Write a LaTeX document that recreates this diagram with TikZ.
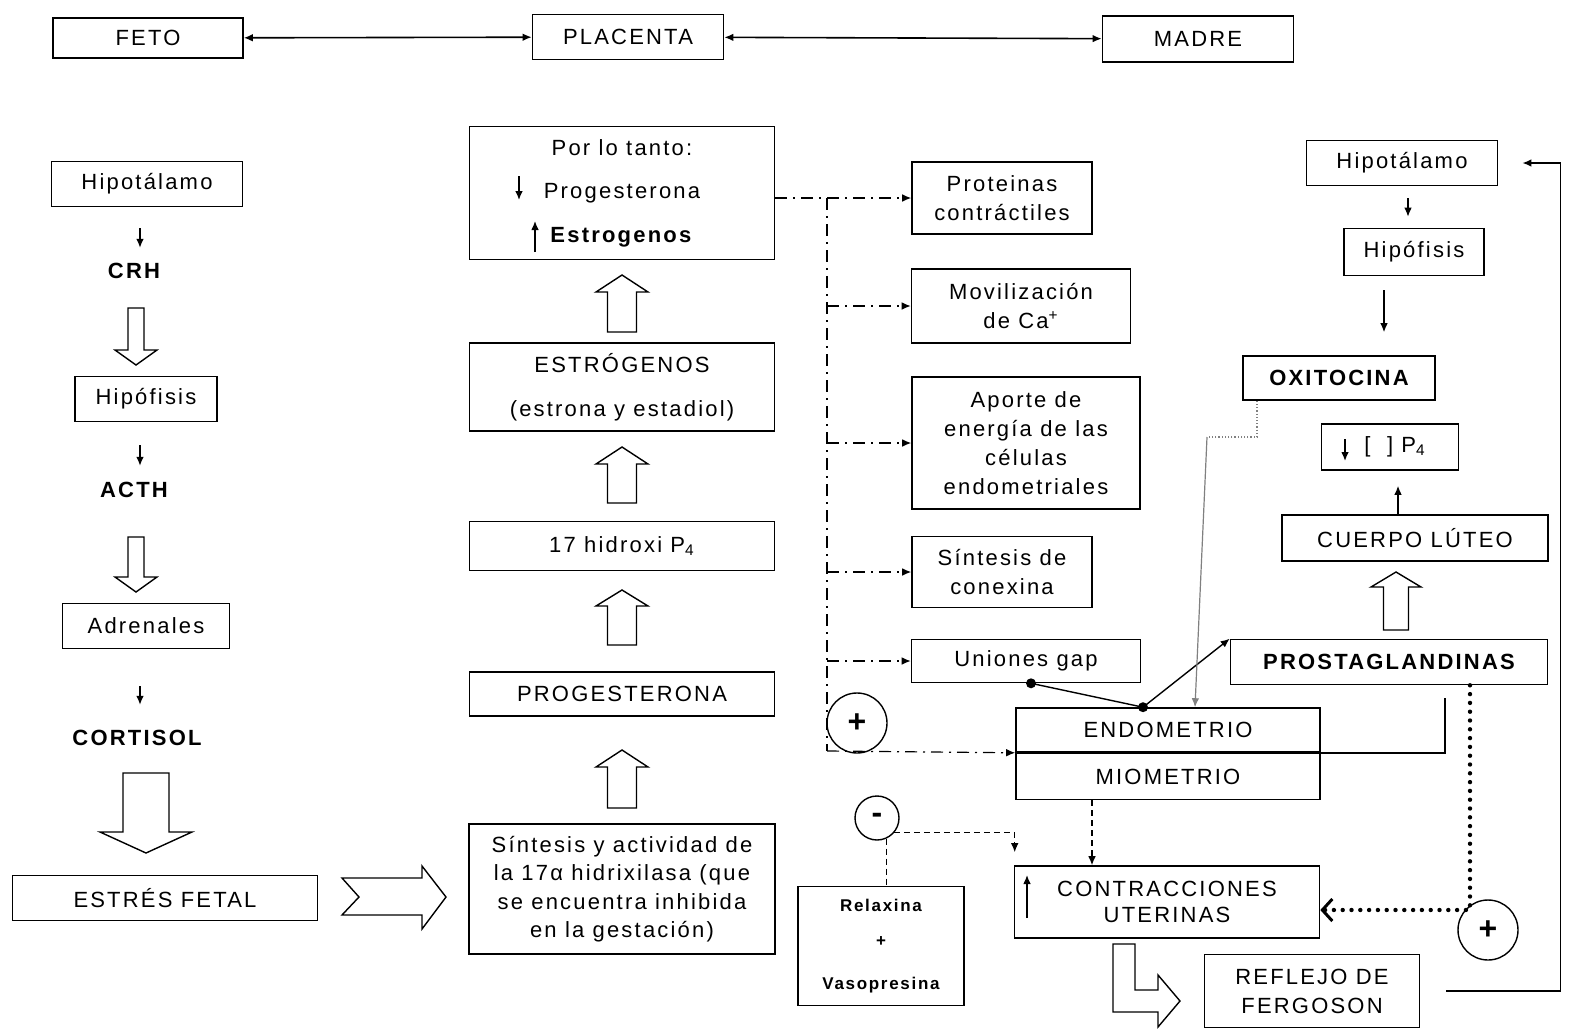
\documentclass[tikz,border=0pt]{standalone}
\usepackage{fontspec}
\setmainfont{Liberation Sans}[LetterSpace=10]
\usetikzlibrary{positioning,calc,arrows.meta}

% hollow block arrow: x, tail y, head base y, tip y, shaft half width, head half width
\newcommand{\fatarrow}[6]{%
  \draw[fat] (#1-#5,#2) -- (#1-#5,#3) -- (#1-#6,#3) -- (#1,#4)
    -- (#1+#6,#3) -- (#1+#5,#3) -- (#1+#5,#2) -- cycle;}

\begin{document}
\begin{tikzpicture}[x=0.5pt,y=-0.5pt,
    font=\fontsize{11}{14.5}\selectfont,
    box/.style={draw,line width=0.8pt,inner sep=0pt,align=center},
    hl/.style={inner sep=1pt,font=\fontsize{11}{14.5}\bfseries\selectfont},
    arr/.style={line width=0.7pt,-{Latex[length=4.5pt,width=3.8pt]}},
    dbl/.style={line width=0.8pt,{Latex[length=4.5pt,width=3.8pt]}-{Latex[length=4.5pt,width=3.8pt]}},
    fat/.style={draw,line width=0.7pt,fill=white},
    dd/.style={line width=0.6pt,dash pattern=on 6pt off 3pt on 1pt off 3pt},
    dsh/.style={line width=0.6pt,dash pattern=on 3pt off 2pt},
    dots/.style={line width=2.2pt,dash pattern=on 0pt off 4.4pt,line cap=round},
    sign/.style={draw,circle,line width=0.7pt,inner sep=0pt,font=\fontsize{16}{16}\bfseries\selectfont}]
\useasboundingbox (0,0) rectangle (1570,1034);

% fila superior
\node[box,minimum width=95pt,minimum height=20pt] (feto) at (148,38) {FETO};
\node[box,minimum width=95.5pt,minimum height=22.5pt] (placenta) at (628,37) {PLACENTA};
\node[box,minimum width=95.5pt,minimum height=23pt] (madre) at (1198,39) {MADRE};
\draw[dbl] (feto) -- (placenta);
\draw[dbl] (placenta) -- (madre);

% feto
\node[box,minimum width=95.5pt,minimum height=22.5pt] (hipo1) at (147,184) {Hipotálamo};
\node[hl] (crh) at (134,271) {CRH};
\node[box,minimum width=71pt,minimum height=22.5pt] (hipof1) at (146,399) {Hipófisis};
\node[hl] (acth) at (134,490) {ACTH};
\node[box,minimum width=83.5pt,minimum height=22.5pt] (adren) at (146,626) {Adrenales};
\node[hl] (cortisol) at (137,738) {CORTISOL};
\node[box,minimum width=152.5pt,minimum height=22.5pt] (estres) at (165,898) {ESTRÉS FETAL};
\draw[arr,shorten <=10.5pt,shorten >=6.5pt] ($(hipo1.south)+(-7,0)$) -- ($(crh.north)+(6,0)$);
\draw[arr,shorten <=11.5pt,shorten >=7pt] ($(hipof1.south)+(-6,0)$) -- ($(acth.north)+(6,0)$);
\draw[arr,shorten <=18.5pt,shorten >=11.5pt] ($(adren.south)+(-6,0)$) -- ($(cortisol.north)+(3,0)$);
\fatarrow{136}{308}{350}{365}{8}{21}
\fatarrow{136}{537}{577}{592}{8}{21}
\fatarrow{146}{773}{832}{853}{23}{46}
\draw[fat] (342,878) -- (422,878) -- (422,866) -- (446,897) -- (422,929)
  -- (422,915) -- (342,915) -- (359,897) -- cycle;

% placenta
\node[box,minimum width=152.5pt,minimum height=66.5pt] (portanto) at (622,193)
  {Por lo tanto:\\[7.25pt]Progesterona\\[7.25pt]\textbf{Estrogenos}};
\draw[arr] (519,176) -- (519,200);
\draw[arr] (535,252) -- (535,221);
\node[box,minimum width=152.5pt,minimum height=44pt] (estrog) at (622,387)
  {ESTRÓGENOS\\[7.5pt](estrona y estadiol)};
\node[box,minimum width=152.5pt,minimum height=24.5pt] (hidroxi) at (622,546) {17 hidroxi P\textsubscript{4}};
\node[box,minimum width=152.5pt,minimum height=22pt] (progest) at (622,694) {PROGESTERONA};
\node[box,minimum width=153pt,minimum height=65pt,font=\fontsize{11}{14.25}\selectfont] (sintesis) at (622,889)
  {Síntesis y actividad de\\la 17α hidrixilasa (que\\se encuentra inhibida\\en la gestación)};
\fatarrow{622}{332}{292}{275}{14.5}{26}
\fatarrow{622}{503}{464}{447}{14.5}{26}
\fatarrow{622}{645}{606}{590}{14.5}{26}
\fatarrow{622}{808}{767}{750}{14.5}{26}

% efectos
\node[box,minimum width=90pt,minimum height=36pt] (proteinas) at (1002,198) {Proteinas\\contráctiles};
\node[box,minimum width=109.5pt,minimum height=37pt] (movil) at (1021,306) {Movilización\\de Ca\textsuperscript{+}};
\node[box,minimum width=114pt,minimum height=66pt] (aporte) at (1026,443) {Aporte de\\energía de las\\células\\endometriales};
\node[box,minimum width=90pt,minimum height=35.5pt] (conexina) at (1002,572) {Síntesis de\\conexina};
\node[box,minimum width=114.5pt,minimum height=21.5pt] (uniones) at (1026,661) {Uniones gap};
\node[sign,minimum size=30pt] (plusA) at (857,723) {+};

% utero
\node[box,minimum width=152pt,minimum height=22pt] (endo) at (1168,730) {ENDOMETRIO};
\node[box,minimum width=152pt,minimum height=23pt,anchor=north] (mio) at (endo.south) {MIOMETRIO};
\node[box,minimum width=152.5pt,minimum height=36pt,font=\fontsize{11}{13}\selectfont] (contr) at (1167,902)
  {CONTRACCIONES\\UTERINAS};
\draw[arr] (1027,918) -- (1027,875);
\node[sign,minimum size=22pt] (minus) at (877,818) {-};
\node[box,minimum width=83pt,minimum height=59.5pt,font=\fontsize{8.5}{10.5}\bfseries\selectfont] (relax) at (881,946)
  {Relaxina\\[7pt]+\\[11pt]Vasopresina};

\coordinate (vtop) at (827,198);
\coordinate (vbot) at (827,751);
\draw[dd,-{Latex[length=4.5pt,width=3.8pt]}] (portanto.east |- proteinas.west) -- (proteinas.west);
\draw[dd] (vtop) -- (vbot);
\foreach \n in {movil,aporte,conexina,uniones}
  \draw[dd,-{Latex[length=4.5pt,width=3.8pt]}] (vtop |- \n.west) -- (\n.west);
\draw[dd,-{Latex[length=4.5pt,width=3.8pt]}] (vbot) -- (endo.south west);
\draw[dsh] (minus.-65) -- (minus.-65 |- relax.north);
\draw[dsh,-{Latex[length=4.5pt,width=3.8pt]}] (minus.-40) -| ($(contr.north west)+(1,-13)$);
\draw[dsh,-{Latex[length=4.5pt,width=3.8pt]}] ($(mio.south)+(-76,0)$) -- ($(contr.north)+(-75,0)$);

% madre
\node[box,minimum width=95.5pt,minimum height=22.5pt] (hipo2) at (1402,163) {Hipotálamo};
\node[box,minimum width=70pt,minimum height=23.5pt] (hipof2) at (1414,252) {Hipófisis};
\node[box,minimum width=96pt,minimum height=22pt,font=\fontsize{11}{14.5}\bfseries\selectfont] (oxi) at (1339,378) {OXITOCINA};
\node[box,minimum width=68.5pt,minimum height=23pt] (pfour) at (1390,447) {\hspace*{5pt}[\ \ ]\ P\textsubscript{4}};
\node[box,minimum width=133pt,minimum height=23pt] (cuerpo) at (1415,538) {CUERPO LÚTEO};
\node[box,minimum width=158.5pt,minimum height=22.5pt,font=\fontsize{11}{14.5}\bfseries\selectfont] (prosta) at (1389,662) {PROSTAGLANDINAS};
\node[sign,minimum size=30pt] (plusB) at (1488,930) {+};
\node[box,minimum width=107.5pt,minimum height=36.5pt] (reflejo) at (1312,991) {REFLEJO DE\\FERGOSON};
\draw[arr,shorten <=6pt,shorten >=5.5pt] ($(hipo2.south)+(6,0)$) -- ($(hipof2.north)+(-6,0)$);
\draw[arr,shorten <=7pt,shorten >=11.5pt] ($(hipof2.south)+(-30,0)$) -- ($(oxi.north)+(45,0)$);
\draw[arr,shorten >=7.5pt] ($(cuerpo.north)+(-17,0)$) -- ($(pfour.south)+(8,0)$);
\draw[arr] (1345,439) -- (1345,461);
\fatarrow{1396}{630}{587}{572}{12.5}{25}

% conexiones
\coordinate (gapdot) at ($(uniones.south)+(5,0)$);
\coordinate (endodot) at ($(endo.north)+(-25,0)$);
\draw[line width=0.7pt,-{Latex[length=4.5pt,width=3.8pt]}] (gapdot) -- (endodot) -- (prosta.north west);
\fill (gapdot) circle (2.5pt) (endodot) circle (2.5pt);
\coordinate (oxbend) at (1207,437);
\draw[gray,line width=0.6pt,densely dotted] ($(oxi.south)+(-82,0)$) |- (oxbend);
\draw[gray,line width=0.6pt,-{Latex[length=4.5pt,width=3.8pt]}] (oxbend) -- ($(endo.north)+(27,0)$);
\draw[line width=0.8pt] (endo.south east) -| ($(prosta.south)+(56,13)$);
\draw[dots,-{Straight Barb[length=5pt,width=11pt,line width=1.5pt]}] ($(prosta.south)+(81,0)$) |- ($(contr.east)+(0,8)$);
\draw[line width=0.8pt,-{Latex[length=4.5pt,width=3.8pt]},shorten <=13pt,shorten >=12pt]
  (reflejo.east) -| ($(hipo2.east)+(62,0)$) -- (hipo2.east);
\draw[fat] (1113,944) -- (1113,1012) -- (1158,1012) -- (1158,1027) -- (1180,1001)
  -- (1158,975) -- (1158,990) -- (1135,990) -- (1135,944) -- cycle;
\end{tikzpicture}
\end{document}
